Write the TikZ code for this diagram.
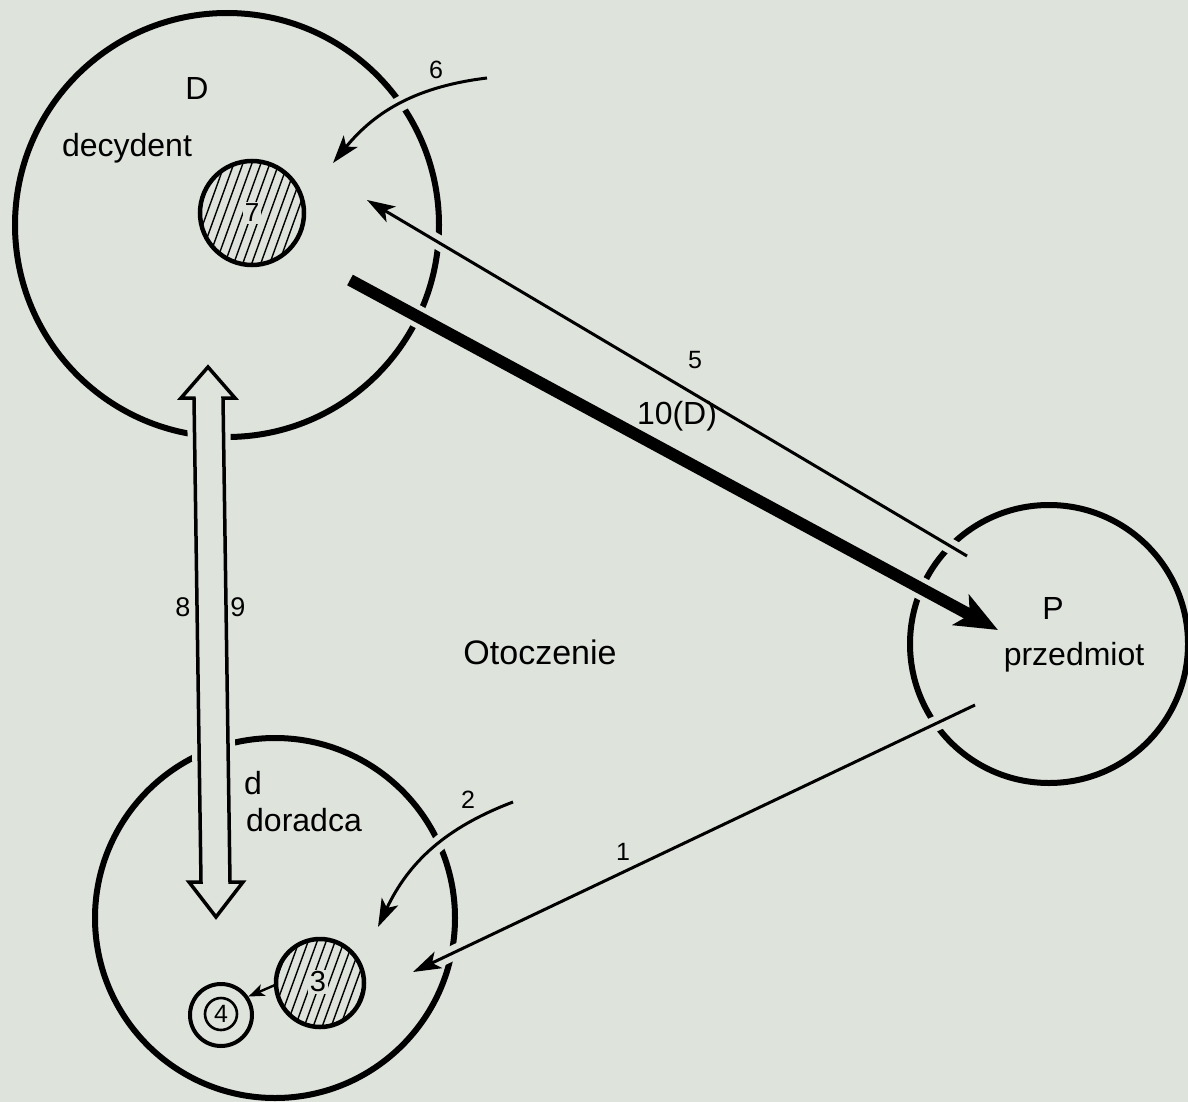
\documentclass[tikz,border=0pt]{standalone}
\usepackage{fontspec}
\setmainfont{Liberation Sans}
\usetikzlibrary{arrows.meta,calc}
\definecolor{bg}{RGB}{222,227,220}
\begin{document}
\begin{tikzpicture}[x=1pt,y=-1pt,
  ring/.style={draw=black, line width=6pt, circle, inner sep=0pt, outer sep=0pt},
  hring/.style={draw=black, line width=4.5pt, circle, inner sep=0pt, outer sep=0pt},
  big/.style={font=\fontsize{32}{38}\selectfont, inner sep=0pt},
  mid/.style={font=\fontsize{27}{30}\selectfont, inner sep=0pt},
  small/.style={font=\fontsize{25}{28}\selectfont, inner sep=0pt},
  conn/.style={line width=3pt, -{Stealth[length=28pt,width=18pt,inset=7pt]}},
  halo/.style={draw=bg, line width=15pt},
  hatch/.style={line width=1.4pt},
]
\fill[bg] (0,0) rectangle (1188,1102);
\useasboundingbox (0,0) rectangle (1188,1102);
\clip (0,0) rectangle (1188,1102);

% big circles
\node[ring, minimum size=424pt] (D) at (227,225) {};
\node[ring, minimum size=278pt] (P) at (1049,644) {};
\node[ring, minimum size=360pt] (d) at (275,918) {};

% connector end points
\coordinate (s6) at (487,78);   \coordinate (e6) at (333,163);
\coordinate (s5) at (967,556);  \coordinate (e5) at (367,200);
\coordinate (s10) at (350,280); \coordinate (e10) at (998,630);
\coordinate (s2) at (513,802);  \coordinate (e2) at (378,927);
\coordinate (s1) at (975,705);  \coordinate (e1) at (413,972);

% halos (gaps in the circles)
\draw[halo] (s6) to[bend right=22] (e6);
\draw[halo] (s5) -- (e5);
\draw[halo, line width=22pt] (s10) -- (e10);
\draw[halo] (s2) to[bend right=22] (e2);
\draw[halo] (s1) -- (e1);
\draw[draw=bg, line width=14pt, line join=miter]
  (208,367) -- (235,398) -- (223,398) -- (230,882) -- (243,882) -- (216,917)
  -- (189,882) -- (201,882) -- (194,398) -- (181,398) -- cycle;

% connectors
\draw[conn] (s6) to[bend right=22] (e6);
\draw[conn] (s5) -- (e5);
\draw[line width=12pt, -{Stealth[length=42pt,width=34pt,inset=10pt]}] (s10) -- (e10);
\draw[conn] (s2) to[bend right=22] (e2);
\draw[conn] (s1) -- (e1);
\draw[fill=bg, line width=3.5pt, line join=miter]
  (208,367) -- (235,398) -- (223,398) -- (230,882) -- (243,882) -- (216,917)
  -- (189,882) -- (201,882) -- (194,398) -- (181,398) -- cycle;

% hatched circle 7
\coordinate (c7) at (252,213);
\begin{scope}
  \clip (c7) circle[radius=52];
  \foreach \i in {-10,...,10}
    \draw[hatch] ($(c7)+(\i*9-26,72)$) -- ++(52,-144);
\end{scope}
\node[fill=bg, inner sep=2pt, font=\fontsize{26}{30}\selectfont] (n7) at (c7) {7};
\node[hring, minimum size=104pt] (C7) at (c7) {};

% hatched circle 3
\coordinate (c3) at (320,983);
\begin{scope}
  \clip (c3) circle[radius=44];
  \foreach \i in {-9,...,9}
    \draw[hatch] ($(c3)+(\i*9-24,66)$) -- ++(48,-132);
\end{scope}
\node[fill=bg, inner sep=2pt, font=\fontsize{29}{32}\selectfont] (n3) at (318,982) {3};
\node[hring, minimum size=88pt] (C3) at (c3) {};

% circle 4
\node[draw, circle, line width=4pt, minimum size=62pt, inner sep=0pt] (C4o) at (221,1015) {};
\node[draw, circle, line width=2.6pt, minimum size=32pt, inner sep=0pt,
      font=\fontsize{25}{28}\selectfont] (C4) at (221,1014) {4};
\draw[line width=2.4pt, -{Stealth[length=16pt,width=12pt,inset=4pt]}] (C3.182) -- (C4o.34);

% labels
\node[big] (lD) at (197,88) {D};
\node[big] (ldec) at (127,148) {decydent};
\node[small] (l6) at (436,70) {6};
\node[small] (l5) at (695,360) {5};
\node[big] (l10) at (677,416) {10(D)};
\node[big] (lP) at (1053,608) {P};
\node[big] (lprz) at (1074,657) {przedmiot};
\node[mid] (l8) at (183,607) {8};
\node[mid] (l9) at (238,607) {9};
\node[big, font=\fontsize{34}{40}\selectfont] (lot) at (540,652) {Otoczenie};
\node[big] (ld) at (253,783) {d};
\node[big] (ldor) at (304,820) {doradca};
\node[small] (l2) at (468,800) {2};
\node[small] (l1) at (623,852) {1};
\end{tikzpicture}
\end{document}
